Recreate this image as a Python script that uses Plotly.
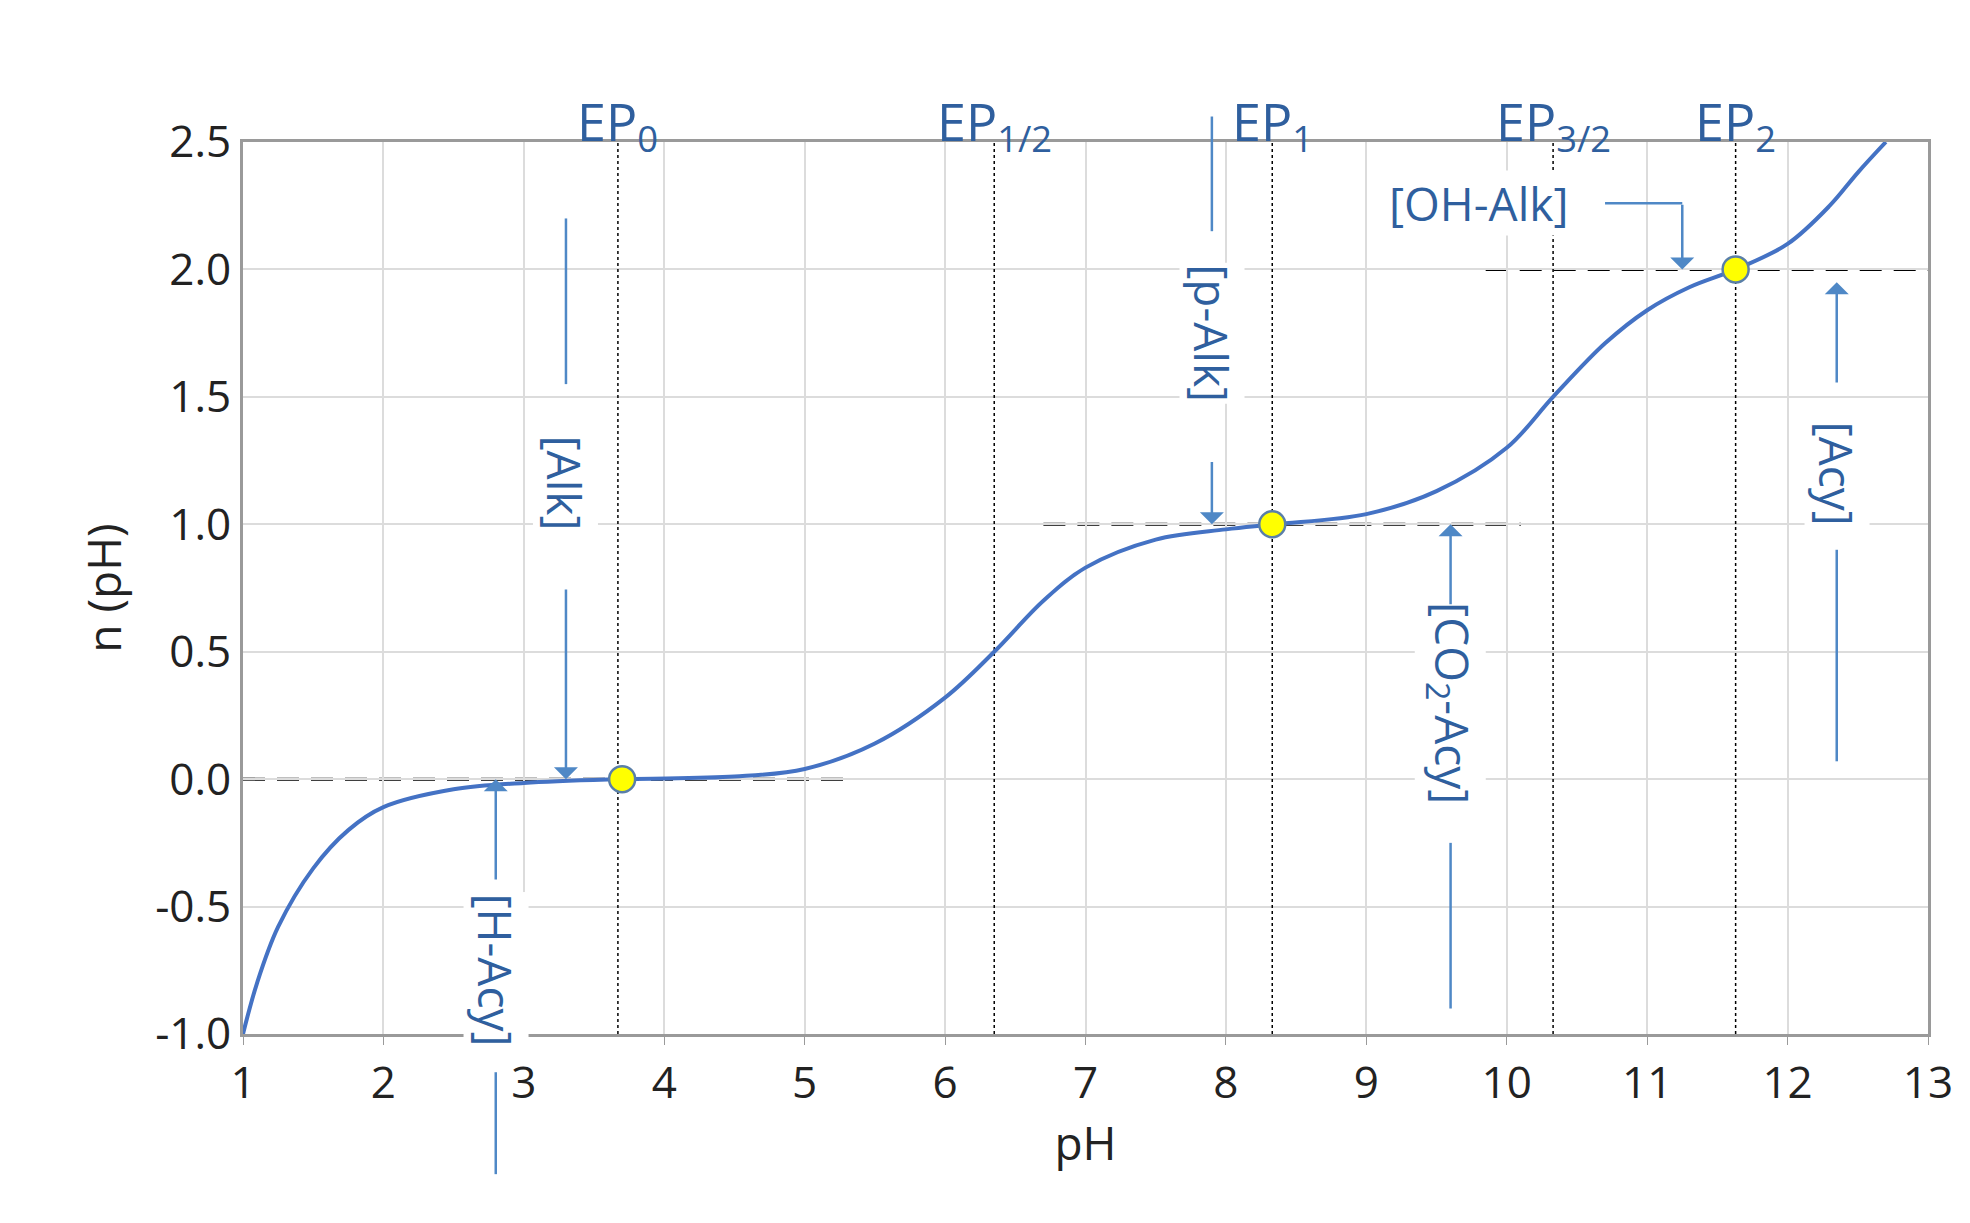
import plotly.graph_objects as go

# titration curve
ph = [1.0, 1.1, 1.25, 1.5, 1.75, 2.0, 2.5, 3.0, 3.7, 4.5, 5.0, 5.5, 6.0, 6.35, 6.7, 7.0,
      7.5, 8.0, 8.35, 9.0, 9.5, 10.0, 10.33, 10.7, 11.0, 11.3, 11.63, 12.0, 12.3, 12.5, 12.7]
n = [-1.0, -0.8, -0.58, -0.35, -0.2, -0.11, -0.04, -0.015, 0.0, 0.01, 0.04, 0.14, 0.32, 0.5,
     0.7, 0.83, 0.94, 0.98, 1.0, 1.04, 1.13, 1.3, 1.5, 1.71, 1.84, 1.93, 2.0, 2.1, 2.25, 2.38, 2.5]

ep_x = [3.67, 6.35, 8.33, 10.33, 11.63]
ep_labels = ["EP<sub>0</sub>", "EP<sub>1/2</sub>", "EP<sub>1</sub>", "EP<sub>3/2</sub>", "EP<sub>2</sub>"]
pt_x = [3.7, 8.33, 11.63]
pt_y = [0.0, 1.0, 2.0]
dash_x0 = [1.0, 6.7, 9.85]
dash_x1 = [5.3, 10.1, 13.2]
dash_y = [0.0, 1.0, 2.0]
y_ticks = [-1.0, -0.5, 0.0, 0.5, 1.0, 1.5, 2.0, 2.5]
y_ticktext = ["-1.0", "-0.5", "0.0", "0.5", "1.0", "1.5", "2.0", "2.5"]

TXT = "#2f5f9e"
ARR = "#4f88c6"
FONT = "Liberation Sans Narrow, Open Sans, Arial"
YMIN, YMAX = -1.0, 2.5


def py(y):
    return (y - YMIN) / (YMAX - YMIN)


fig = go.Figure()
for x in ep_x:
    fig.add_trace(go.Scatter(x=[x, x], y=[-1.0, 2.5], mode="lines",
                             line=dict(color="black", width=1.5, dash="dot"),
                             showlegend=False, hoverinfo="skip"))
fig.add_trace(go.Scatter(x=ph, y=n, mode="lines", line=dict(color="#4472c4", width=4, shape="spline"),
                         showlegend=False))
fig.add_trace(go.Scatter(x=pt_x, y=pt_y, mode="markers",
                         marker=dict(size=26, color="#ffff00", line=dict(color="#5a7fa8", width=2.5)),
                         showlegend=False))

shapes = []
for x0, x1, y in zip(dash_x0, dash_x1, dash_y):
    shapes.append(dict(type="line", xref="x", yref="paper", x0=x0, x1=x1, y0=py(y), y1=py(y),
                       line=dict(color="black", width=3, dash="22px,12px"), layer="below"))

ann = []
for x, t in zip(ep_x, ep_labels):
    ann.append(dict(x=x, y=1.066, yref="paper", text=t, showarrow=False,
                    font=dict(size=52, color=TXT, family=FONT)))


def vtext(x, y, t):
    ann.append(dict(x=x, y=y, text=t, textangle=90, showarrow=False, bgcolor="white",
                    font=dict(size=46, color=TXT, family=FONT)))


def arrow(x0, y0, x1, y1):
    ann.append(dict(x=x1, y=y1, ax=x0, ay=y0, xref="x", yref="y", axref="x", ayref="y", text="",
                    showarrow=True, arrowhead=1, arrowsize=1.6, arrowwidth=2.5,
                    arrowcolor=ARR, standoff=0, startstandoff=0))


def line(x0, y0, x1, y1):
    shapes.append(dict(type="line", xref="x", yref="paper", x0=x0, x1=x1, y0=py(y0), y1=py(y1),
                       line=dict(color=ARR, width=2.5)))


vtext(3.3, 1.16, "[Alk]")
line(3.3, 2.2, 3.3, 1.55)
arrow(3.3, 0.75, 3.3, 0.0)
vtext(2.8, -0.75, "[H-Acy]")
arrow(2.8, -0.4, 2.8, 0.0)
line(2.8, -1.15, 2.8, -1.55)
vtext(7.9, 1.75, "[p-Alk]")
line(7.9, 2.6, 7.9, 2.15)
arrow(7.9, 1.25, 7.9, 1.0)
vtext(9.6, 0.3, "[CO<sub>2</sub>-Acy]")
arrow(9.6, 0.68, 9.6, 1.0)
line(9.6, -0.25, 9.6, -0.9)
vtext(12.35, 1.2, "[Acy]")
arrow(12.35, 1.55, 12.35, 1.95)
line(12.35, 0.9, 12.35, 0.07)
ann.append(dict(x=9.8, y=2.26, text="[OH-Alk]", showarrow=False, bgcolor="white",
                font=dict(size=46, color=TXT, family=FONT)))
line(10.7, 2.26, 11.25, 2.26)
arrow(11.25, 2.26, 11.25, 2.0)

fig.update_layout(
    width=1970, height=1223, paper_bgcolor="white", plot_bgcolor="white",
    margin=dict(l=235, r=50, t=134, b=197),
    font=dict(family=FONT, size=44, color="#222"),
    annotations=ann, shapes=shapes,
)
fig.update_xaxes(range=[1, 13], dtick=1, showgrid=True, gridcolor="#dcdcdc", gridwidth=2,
                 showline=True, linecolor="#9a9a9a", linewidth=3, mirror=True, zeroline=False,
                 ticks="outside", ticklen=8, tickcolor="#9a9a9a",
                 title=dict(text="pH", font=dict(size=46), standoff=15))
fig.update_yaxes(range=[YMIN, YMAX], tickvals=y_ticks, ticktext=y_ticktext, showgrid=True,
                 gridcolor="#dcdcdc", gridwidth=2, showline=True, linecolor="#9a9a9a", linewidth=3,
                 mirror=True, zeroline=False, title=dict(text="n (pH)", font=dict(size=46), standoff=20))
fig.write_html("out.html")
